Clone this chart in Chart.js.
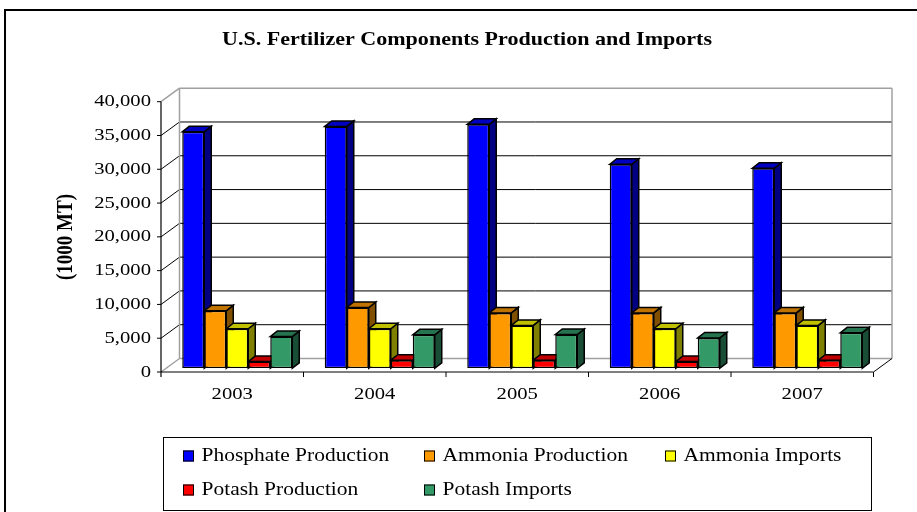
<!DOCTYPE html>
<html lang="en">
<head>
    <meta charset="UTF-8">
    <title>U.S. Fertilizer Components Production and Imports</title>
    <script src="https://cdn.jsdelivr.net/npm/chart.js"></script>
    <style>
        body {
            margin: 0;
            background: #ffffff;
        }
        #wrap {
            width: 917px;
            height: 512px;
        }
    </style>
</head>
<body>
    <div id="wrap">
        <canvas id="fertChart" width="917" height="512"></canvas>
    </div>

    <script>
        // data (1000 MT)
        const years = ['2003', '2004', '2005', '2006', '2007'];
        const phosphateProduction = [35000, 35800, 36100, 30200, 29600];
        const ammoniaProduction = [8500, 9000, 8200, 8200, 8200];
        const ammoniaImports = [5850, 5850, 6350, 5850, 6350];
        const potashProduction = [1000, 1200, 1200, 1000, 1200];
        const potashImports = [4700, 4950, 5000, 4500, 5250];

        const seriesNames = ['Phosphate Production', 'Ammonia Production', 'Ammonia Imports', 'Potash Production', 'Potash Imports'];
        const frontColors = ['#0000ff', '#ff9900', '#ffff00', '#ff0000', '#339966'];
        const topColors = ['#0000c0', '#c07300', '#c0c000', '#c00000', '#267350'];
        const sideColors = ['#000080', '#805000', '#808000', '#800000', '#1a4d35'];

        const chartTitle = 'U.S. Fertilizer Components Production and Imports';
        const yAxisTitle = '(1000 MT)';

        const SERIF = '"Liberation Serif", "Times New Roman", serif';
        const STRETCH = 1.16;      // the source picture is a bit wide
        const FRONT = { x: -5, y: 3.7 };   // front floor edge, from bar plane
        const BACK = { x: 18.5, y: -13.5 }; // back wall, from front edge
        const DEPTH = { x: 7, y: 5.5 };    // bar depth

        function wideText(ctx, text, x, y, align, sx) {
            ctx.save();
            ctx.translate(x, y);
            ctx.scale(sx, 1);
            ctx.textAlign = align;
            ctx.textBaseline = 'middle';
            ctx.fillText(text, 0, 0);
            ctx.restore();
        }

        function line(ctx, x1, y1, x2, y2, color, width) {
            ctx.beginPath();
            ctx.moveTo(x1, y1);
            ctx.lineTo(x2, y2);
            ctx.strokeStyle = color;
            ctx.lineWidth = width;
            ctx.stroke();
        }

        function poly(ctx, pts, fill) {
            ctx.beginPath();
            ctx.moveTo(pts[0][0], pts[0][1]);
            for (let i = 1; i < pts.length; i++) ctx.lineTo(pts[i][0], pts[i][1]);
            ctx.closePath();
            ctx.fillStyle = fill;
            ctx.fill();
            ctx.strokeStyle = '#000';
            ctx.lineWidth = 1.5;
            ctx.stroke();
        }

        const frame3d = {
            id: 'frame3d',
            beforeDraw(chart) {
                const ctx = chart.ctx;
                ctx.save();
                ctx.fillStyle = '#fff';
                ctx.fillRect(0, 0, chart.width, chart.height);
                ctx.strokeStyle = '#000';
                ctx.lineWidth = 2;
                ctx.strokeRect(5, 10, 1000, 1000);
                ctx.restore();
            },
            beforeDatasetsDraw(chart) {
                const ctx = chart.ctx;
                const ca = chart.chartArea;
                const ys = chart.scales.y;
                const xs = chart.scales.x;
                const fl = ca.left + FRONT.x, fr = ca.right + FRONT.x;
                const bl = fl + BACK.x, br = fr + BACK.x;
                const yFront = v => ys.getPixelForValue(v) + FRONT.y;
                const yBack = v => yFront(v) + BACK.y;
                const gray = '#a0a0a0';
                ctx.save();

                // back wall grid + side wall diagonals
                ys.ticks.forEach(t => {
                    const v = t.value;
                    const edge = (v === ys.min || v === ys.max);
                    line(ctx, bl, yBack(v), br, yBack(v), edge ? gray : '#000', edge ? 1.5 : 1);
                    line(ctx, fl, yFront(v), bl, yBack(v), edge ? gray : '#000', edge ? 1.5 : 1);
                    // tick mark
                    line(ctx, fl - 4, yFront(v), fl, yFront(v), '#000', 1);
                });
                line(ctx, bl, yBack(ys.max), bl, yBack(ys.min), gray, 1.5);
                line(ctx, br, yBack(ys.max), br, yBack(ys.min), gray, 1.5);

                // floor
                line(ctx, fr, yFront(0), br, yBack(0), '#000', 1);
                line(ctx, fl, yFront(0), fr, yFront(0), '#000', 1.2);
                line(ctx, fl, yFront(ys.max), fl, yFront(0) + 5, '#000', 1.2);
                const step = (fr - fl) / years.length;
                for (let k = 1; k <= years.length; k++) {
                    line(ctx, fl + step * k, yFront(0), fl + step * k, yFront(0) + 5, '#000', 1);
                }

                // bar depth faces, drawn before the fronts
                for (let j = 0; j < years.length; j++) {
                    chart.data.datasets.forEach((ds, i) => {
                        const bar = chart.getDatasetMeta(i).data[j];
                        const l = bar.x - bar.width / 2, r = bar.x + bar.width / 2;
                        poly(ctx, [[r, bar.y], [r + DEPTH.x, bar.y - DEPTH.y],
                            [r + DEPTH.x, bar.base - DEPTH.y], [r, bar.base]], sideColors[i]);
                        poly(ctx, [[l, bar.y], [l + DEPTH.x, bar.y - DEPTH.y],
                            [r + DEPTH.x, bar.y - DEPTH.y], [r, bar.y]], topColors[i]);
                    });
                }
                ctx.restore();
            },
            afterDraw(chart) {
                const ctx = chart.ctx;
                const ca = chart.chartArea;
                const ys = chart.scales.y;
                const xs = chart.scales.x;
                ctx.save();
                ctx.fillStyle = '#000';

                // title
                ctx.font = 'bold 19px ' + SERIF;
                wideText(ctx, chartTitle, 467, 40, 'center', STRETCH);

                // y ticks
                ctx.font = '17.5px ' + SERIF;
                ys.ticks.forEach(t => {
                    const y = ys.getPixelForValue(t.value) + FRONT.y;
                    wideText(ctx, t.value.toLocaleString('en-US'), ca.left + FRONT.x - 10, y, 'right', 1.18);
                });
                // x ticks
                years.forEach((yr, j) => {
                    wideText(ctx, yr, xs.getPixelForTick(j) + FRONT.x, 394, 'center', 1.18);
                });

                // y axis title
                ctx.font = 'bold 19px ' + SERIF;
                ctx.save();
                ctx.translate(66, 237);
                ctx.rotate(-Math.PI / 2);
                ctx.scale(1, STRETCH);
                ctx.textAlign = 'center';
                ctx.textBaseline = 'middle';
                ctx.fillText(yAxisTitle, 0, 0);
                ctx.restore();

                // legend
                ctx.strokeStyle = '#000';
                ctx.lineWidth = 1;
                ctx.strokeRect(163.5, 437.5, 708, 73);
                const cols = [183, 424, 665];
                const rows = [456, 490];
                ctx.font = '18.5px ' + SERIF;
                seriesNames.forEach((name, i) => {
                    const cx = cols[i % 3], cy = rows[Math.floor(i / 3)];
                    ctx.fillStyle = frontColors[i];
                    ctx.fillRect(cx, cy - 5.5, 11, 11);
                    ctx.strokeRect(cx + 0.5, cy - 5, 10, 10);
                    ctx.fillStyle = '#000';
                    wideText(ctx, name, cx + 18.5, cy, 'left', STRETCH);
                });
                ctx.restore();
            }
        };

        const seriesValues = [phosphateProduction, ammoniaProduction, ammoniaImports, potashProduction, potashImports];

        new Chart(document.getElementById('fertChart'), {
            type: 'bar',
            data: {
                labels: years,
                datasets: seriesNames.map((name, i) => ({
                    label: name,
                    data: seriesValues[i],
                    backgroundColor: frontColors[i],
                    borderColor: '#000',
                    borderWidth: 1.5,
                    borderSkipped: false,
                    barPercentage: 1.0,
                    categoryPercentage: 0.772
                }))
            },
            options: {
                responsive: false,
                animation: false,
                layout: {
                    padding: { left: 166, right: 38.5, top: 98, bottom: 143.7 }
                },
                scales: {
                    x: { display: false },
                    y: { display: false, min: 0, max: 40000, ticks: { stepSize: 5000 } }
                },
                plugins: {
                    legend: { display: false },
                    title: { display: false },
                    tooltip: { enabled: false }
                }
            },
            plugins: [frame3d]
        });
    </script>
</body>
</html>
